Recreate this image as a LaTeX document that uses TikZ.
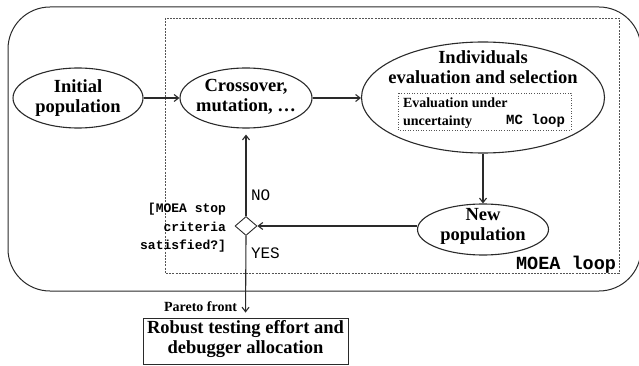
\documentclass[tikz,border=0pt]{standalone}
\usepackage{fontspec}
\setmainfont{Liberation Serif}
\setmonofont{Liberation Mono}
\usetikzlibrary{shapes.geometric,arrows.meta}
\definecolor{linec}{HTML}{2A2A2A}
\definecolor{boxc}{HTML}{555555}
\tikzset{
  big/.style={font=\fontsize{18.5}{20}\selectfont\bfseries},
  oval/.style={ellipse, draw=linec, line width=1.1pt, inner sep=0pt},
  arr/.style={draw=linec, line width=1.1pt, -{Straight Barb[length=4.5pt,width=7pt]}},
  plain/.style={inner sep=0pt, outer sep=0pt}
}
\begin{document}
\begin{tikzpicture}[x=1pt,y=-1pt]
\useasboundingbox (0,0) rectangle (639,366);
% outer loop
\draw[draw=linec, line width=1pt, rounded corners=42pt] (8,7) rectangle (641,291);
% MOEA loop dashed box
\draw[draw=boxc, line width=0.6pt, dash pattern=on 2pt off 1.2pt] (165,18) rectangle (619,273);
\node[plain, anchor=base east, font=\fontsize{18.5}{20}\selectfont\ttfamily\bfseries] (moealbl) at (616,269) {MOEA loop};
% ellipses
\node[oval, minimum width=130pt, minimum height=60pt] (init) at (78,98) {};
\node[plain, big, align=center] (inittxt) at (78,98.5) {Initial\\population};
\node[oval, minimum width=132pt, minimum height=60pt] (cross) at (246,98) {};
\node[plain, big, align=center] (crosstxt) at (246,97) {Crossover,\\mutation, …};
\node[oval, minimum width=243pt, minimum height=111pt] (indiv) at (483,97.5) {};
\node[plain, big, align=center] (indivtxt) at (483,66.7) {Individuals\\evaluation and selection};
% inner MC box
\draw[draw=boxc, line width=0.6pt, dotted] (398,93) rectangle (571,130);
\node[plain, anchor=west, align=left, font=\fontsize{14}{18}\selectfont\bfseries] (evaltxt) at (403,112.7) {Evaluation under\\uncertainty};
\node[plain, anchor=base east, font=\fontsize{14}{18}\selectfont\ttfamily\bfseries] (mclbl) at (565,125) {MC loop};
\node[oval, minimum width=131pt, minimum height=51pt] (newpop) at (483,229.5) {};
\node[plain, big, align=center] (newtxt) at (483,226.5) {New\\population};
% decision
\node[diamond, draw=linec, line width=0.9pt, inner sep=0pt, minimum width=22pt, minimum height=19pt] (dia) at (246,226) {};
\node[plain, anchor=east, align=right, font=\fontsize{13}{18.5}\selectfont\ttfamily\bfseries] (stoptxt) at (226,228) {[MOEA stop\\criteria\\satisfied?]};
\node[plain, anchor=base west, font=\fontsize{16}{18}\selectfont\ttfamily] (nolbl) at (251,200) {NO};
\node[plain, anchor=base west, font=\fontsize{16}{18}\selectfont\ttfamily] (yeslbl) at (251,258) {YES};
% result
\node[draw=linec, line width=0.9pt, minimum width=205pt, minimum height=46pt, inner sep=0pt] (robust) at (245.5,341) {};
\node[plain, big, align=center] (robusttxt) at (245.5,339) {Robust testing effort and\\debugger allocation};
\node[plain, anchor=base east, font=\fontsize{14}{16}\selectfont\bfseries] (pareto) at (237,311) {Pareto front};
% connectors
\draw[arr] (init.east) -- (cross.west);
\draw[arr] (cross.east) -- (cross.east -| indiv.west);
\draw[arr] (indiv.south) -- (newpop.north);
\draw[arr] (newpop.west |- dia.east) -- (dia.east);
\draw[arr, shorten >=6pt] (dia.north) -- (cross.south);
\draw[arr, shorten >=5pt] (dia.south) -- (robust.north);
\end{tikzpicture}
\end{document}
